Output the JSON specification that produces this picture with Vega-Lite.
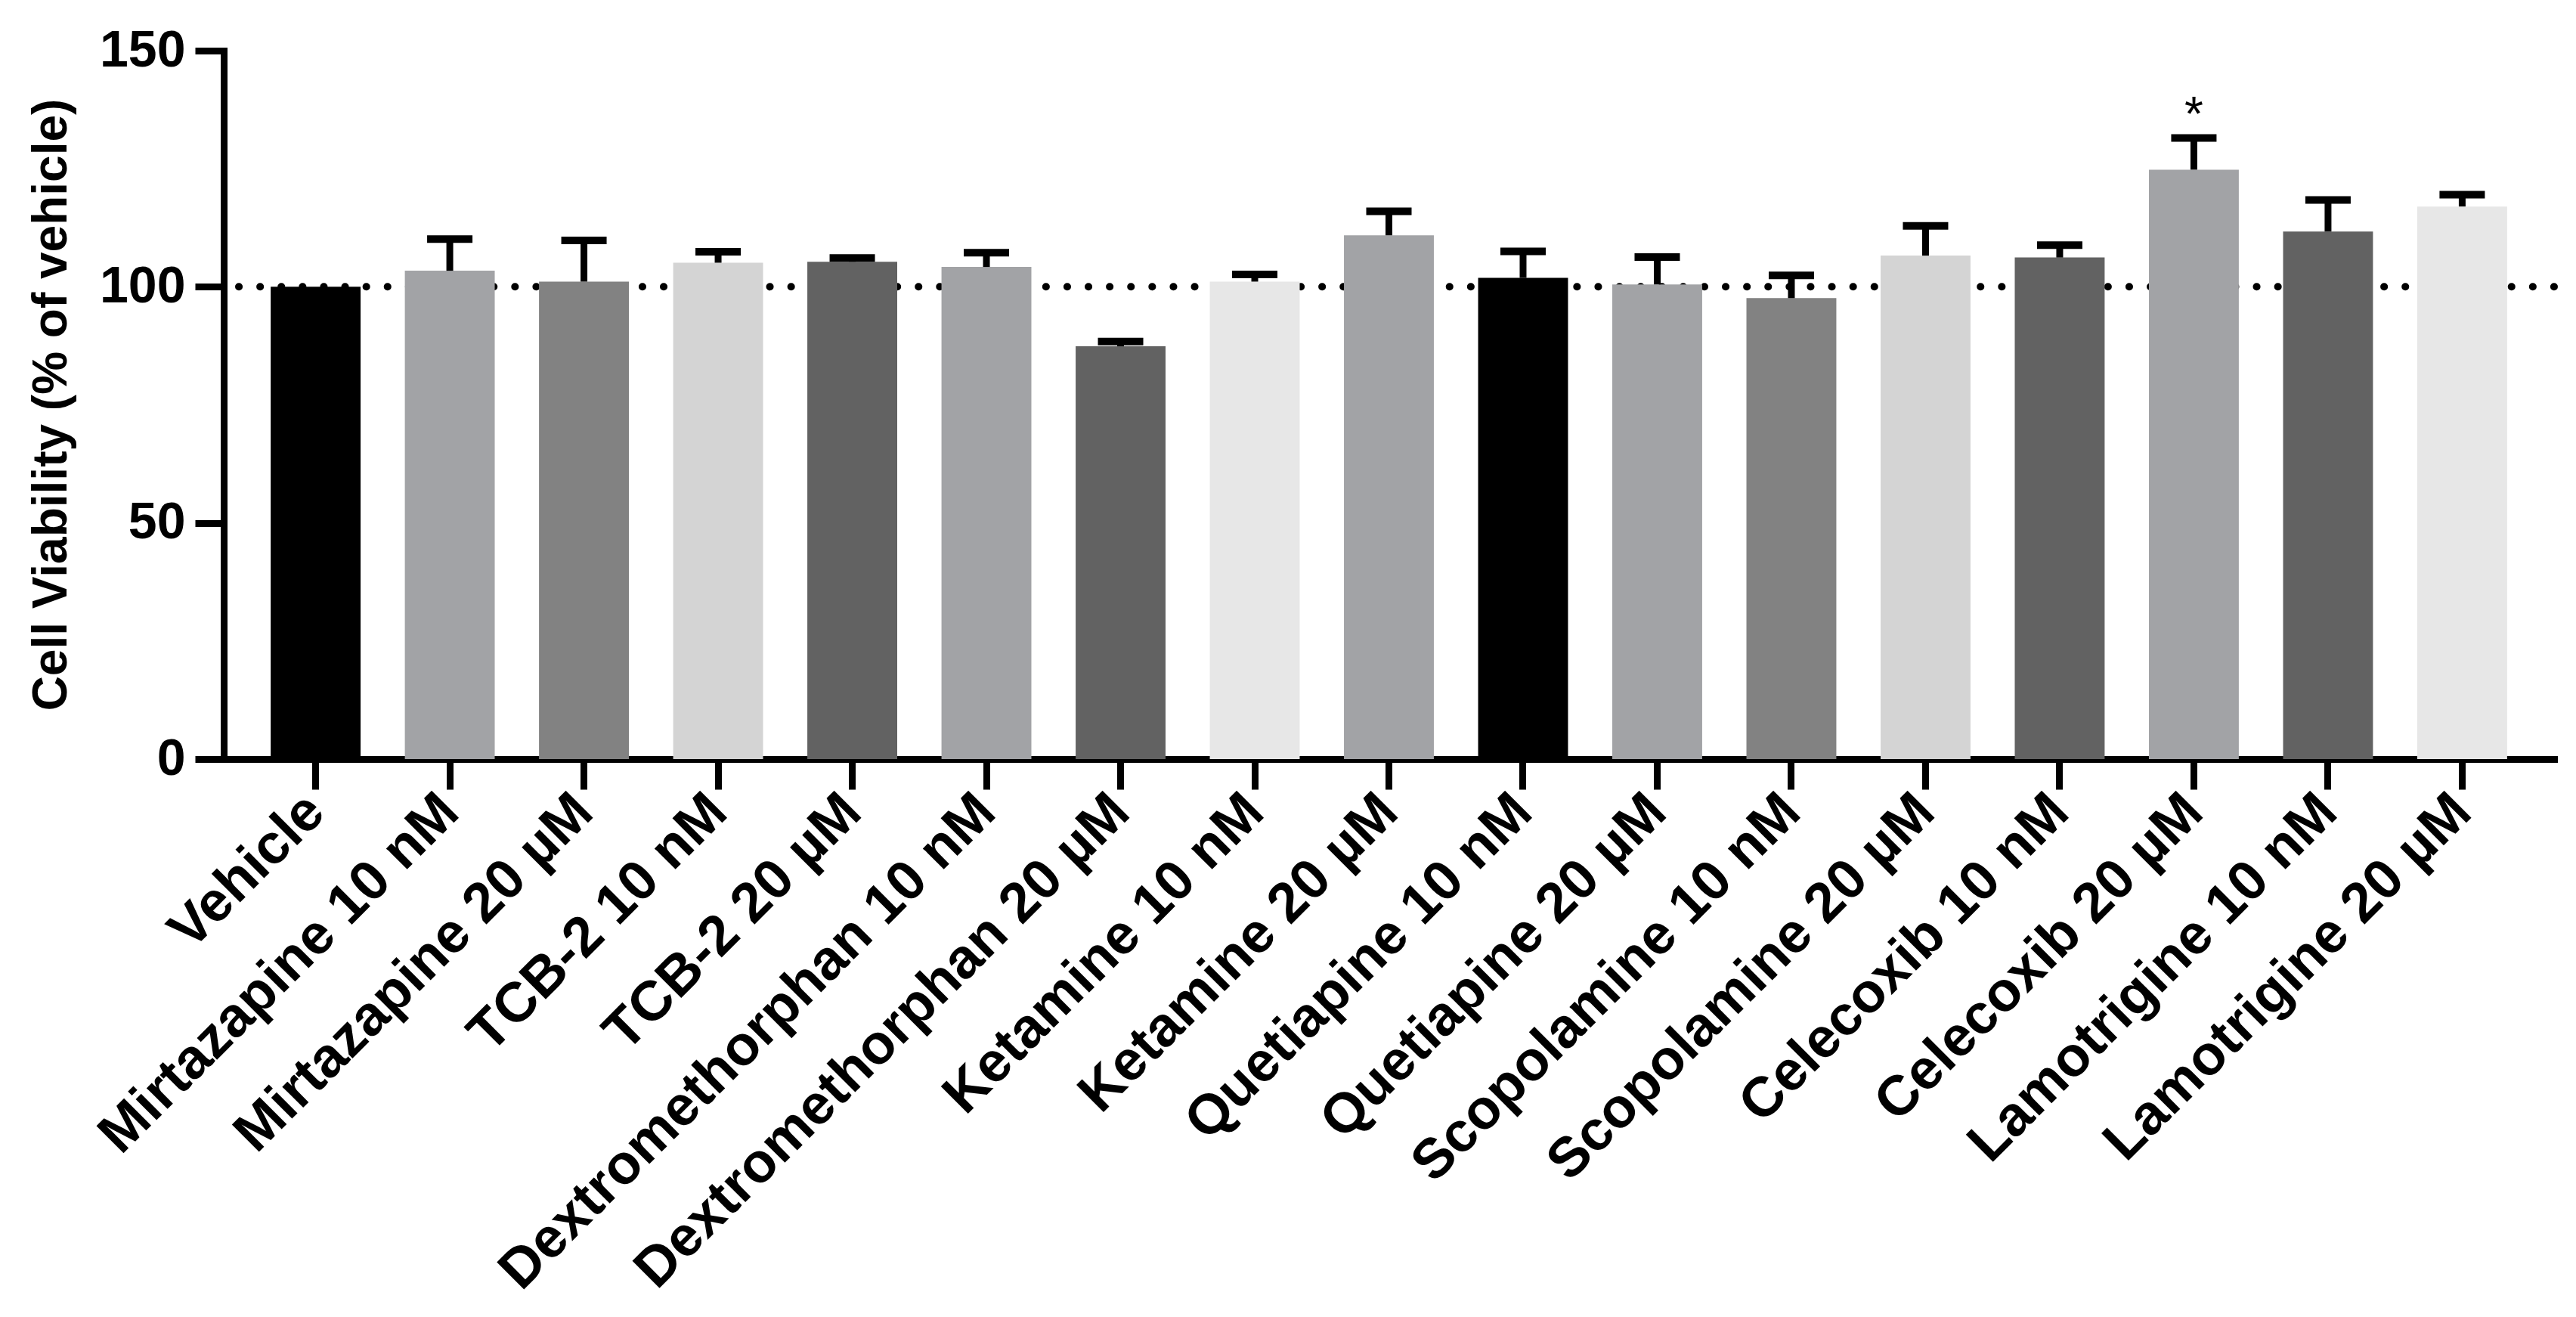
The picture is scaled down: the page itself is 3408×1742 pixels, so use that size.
{
  "$schema": "https://vega.github.io/schema/vega-lite/v6.json",
  "width": 3083,
  "height": 937,
  "autosize": {"type": "none"},
  "padding": {"left": 296, "top": 67, "right": 29, "bottom": 738},
  "background": "white",
  "config": {"view": {"stroke": null}, "font": "Liberation Sans"},
  "datasets": {
    "bars": [
      {"drug": "Vehicle", "value": 100, "upper": null},
      {"drug": "Mirtazapine 10 nM", "value": 103.4, "upper": 110.1},
      {"drug": "Mirtazapine 20 µM", "value": 101.1, "upper": 109.8},
      {"drug": "TCB-2 10 nM", "value": 105.1, "upper": 107.4},
      {"drug": "TCB-2 20 µM", "value": 105.3, "upper": 106.1},
      {"drug": "Dextromethorphan 10 nM", "value": 104.2, "upper": 107.2},
      {"drug": "Dextromethorphan 20 µM", "value": 87.4, "upper": 88.4},
      {"drug": "Ketamine 10 nM", "value": 101.1, "upper": 102.6},
      {"drug": "Ketamine 20 µM", "value": 110.9, "upper": 116.0},
      {"drug": "Quetiapine 10 nM", "value": 101.9, "upper": 107.5},
      {"drug": "Quetiapine 20 µM", "value": 100.5, "upper": 106.3},
      {"drug": "Scopolamine 10 nM", "value": 97.6, "upper": 102.4},
      {"drug": "Scopolamine 20 µM", "value": 106.6, "upper": 112.9},
      {"drug": "Celecoxib 10 nM", "value": 106.2, "upper": 108.8},
      {"drug": "Celecoxib 20 µM", "value": 124.8, "upper": 131.5},
      {"drug": "Lamotrigine 10 nM", "value": 111.7, "upper": 118.4},
      {"drug": "Lamotrigine 20 µM", "value": 117.0, "upper": 119.5}
    ],
    "ref": [{"ref": 100}],
    "stars": [{"drug": "Celecoxib 20 µM", "label": "*", "y": 133}]
  },
  "layer": [
    {
      "data": {"name": "ref"},
      "mark": {"type": "rule", "strokeDash": [0.1, 28], "strokeCap": "round", "strokeWidth": 10, "color": "black"},
      "encoding": {"y": {"field": "ref", "type": "quantitative", "scale": {"domain": [0, 150], "nice": false, "zero": true}}}
    },
    {
      "data": {"name": "bars"},
      "mark": {"type": "bar"},
      "encoding": {
        "x": {
          "field": "drug", "type": "nominal", "sort": null,
          "scale": {"paddingInner": 0.33, "paddingOuter": 0.35},
          "axis": {
            "title": null, "labelAngle": -45, "labelAlign": "right", "labelBaseline": "middle",
            "labelFont": "Liberation Sans", "labelFontSize": 74, "labelFontWeight": "bold", "labelColor": "black",
            "labelPadding": 18, "labelLimit": 3000, "labelOverlap": false,
            "tickSize": 40, "tickWidth": 9, "tickColor": "black",
            "domainWidth": 9, "domainColor": "black", "domainCap": "square"
          }
        },
        "y": {
          "field": "value", "type": "quantitative",
          "scale": {"domain": [0, 150], "nice": false, "zero": true},
          "axis": {
            "values": [0, 50, 100, 150], "grid": false,
            "title": "Cell Viability (% of vehicle)",
            "titleFont": "Liberation Sans", "titleFontSize": 64, "titleFontWeight": "bold", "titleColor": "black",
            "titleAngle": 270, "titleX": -228, "titleY": 468, "titleAlign": "center", "titleBaseline": "middle",
            "labelFont": "Liberation Sans", "labelFontSize": 68, "labelFontWeight": "bold", "labelColor": "black",
            "labelPadding": 13,
            "tickSize": 38, "tickWidth": 9, "tickColor": "black",
            "domainWidth": 9, "domainColor": "black", "domainCap": "square"
          }
        },
        "color": {
          "field": "drug", "type": "nominal", "legend": null,
          "scale": {
            "domain": ["Vehicle", "Mirtazapine 10 nM", "Mirtazapine 20 µM", "TCB-2 10 nM", "TCB-2 20 µM", "Dextromethorphan 10 nM", "Dextromethorphan 20 µM", "Ketamine 10 nM", "Ketamine 20 µM", "Quetiapine 10 nM", "Quetiapine 20 µM", "Scopolamine 10 nM", "Scopolamine 20 µM", "Celecoxib 10 nM", "Celecoxib 20 µM", "Lamotrigine 10 nM", "Lamotrigine 20 µM"],
            "range": ["#000000", "#a2a3a6", "#828282", "#d4d4d4", "#626262", "#a2a3a6", "#626262", "#e7e7e7", "#a2a3a6", "#000000", "#a2a3a6", "#828282", "#d4d4d4", "#626262", "#a2a3a6", "#626262", "#e7e7e7"]
          }
        }
      }
    },
    {
      "data": {"name": "bars"},
      "mark": {"type": "rule", "strokeWidth": 9, "color": "black"},
      "encoding": {
        "x": {"field": "drug", "type": "nominal", "sort": null},
        "y": {"field": "value", "type": "quantitative", "scale": {"domain": [0, 150], "nice": false, "zero": true}},
        "y2": {"field": "upper"}
      }
    },
    {
      "data": {"name": "bars"},
      "mark": {"type": "tick", "size": 60, "thickness": 10, "color": "black", "opacity": 1},
      "encoding": {
        "x": {"field": "drug", "type": "nominal", "sort": null},
        "y": {"field": "upper", "type": "quantitative", "scale": {"domain": [0, 150], "nice": false, "zero": true}}
      }
    },
    {
      "data": {"name": "stars"},
      "mark": {"type": "text", "font": "Liberation Sans", "fontSize": 64, "baseline": "alphabetic", "align": "center", "color": "black"},
      "encoding": {
        "x": {"field": "drug", "type": "nominal", "sort": null},
        "y": {"field": "y", "type": "quantitative", "scale": {"domain": [0, 150], "nice": false, "zero": true}},
        "text": {"field": "label"}
      }
    }
  ]
}
